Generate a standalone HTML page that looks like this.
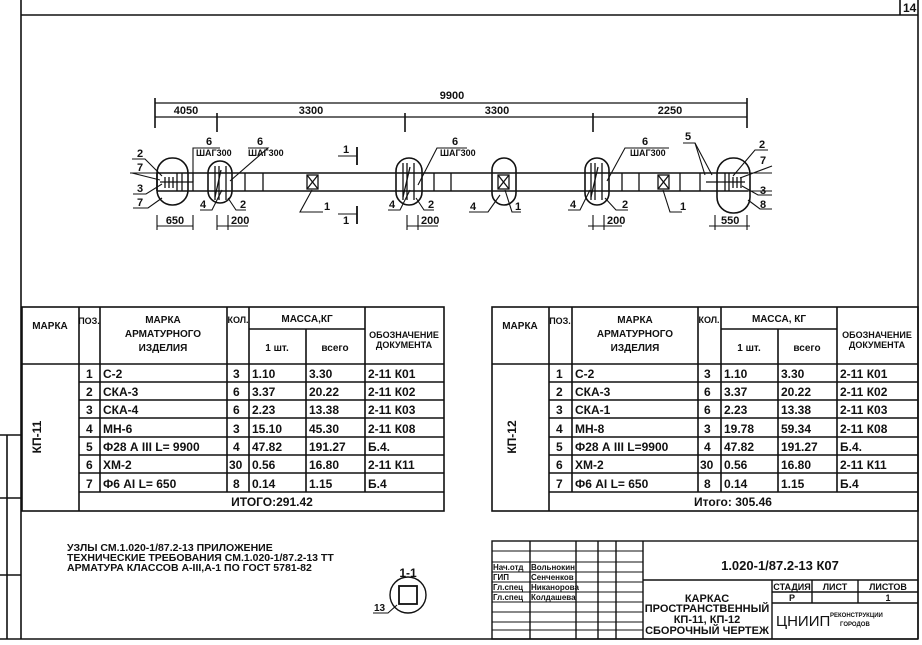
<!DOCTYPE html>
<html><head><meta charset="utf-8">
<style>
html,body{margin:0;padding:0;background:#fff;}
svg{display:block;}
text{font-family:"Liberation Sans","DejaVu Sans",sans-serif;fill:#111;}
</style></head>
<body>
<svg width="922" height="645" viewBox="0 0 922 645" xmlns="http://www.w3.org/2000/svg">
<g stroke="#111" fill="none" stroke-width="1.6">
<line x1="21" y1="0" x2="21" y2="639"/>
<line x1="918" y1="0" x2="918" y2="639"/>
<line x1="21" y1="639" x2="918" y2="639"/>
<line x1="21" y1="15" x2="918" y2="15"/>
<line x1="900" y1="0" x2="900" y2="15"/>
<line x1="0" y1="435" x2="21" y2="435"/>
<line x1="0" y1="498" x2="21" y2="498"/>
<line x1="0" y1="575" x2="21" y2="575"/>
<line x1="7" y1="435" x2="7" y2="639"/>
<line x1="0" y1="639" x2="21" y2="639"/>

<line x1="155" y1="103" x2="747" y2="103" stroke-width="1.2"/>
<line x1="155" y1="117" x2="747" y2="117" stroke-width="1.2"/>
<line x1="155" y1="98" x2="155" y2="128"/>
<line x1="747" y1="98" x2="747" y2="128"/>
<line x1="217" y1="113" x2="217" y2="132"/>
<line x1="405" y1="113" x2="405" y2="132"/>
<line x1="593" y1="113" x2="593" y2="132"/>
<line x1="157" y1="173" x2="748" y2="173"/>
<line x1="157" y1="191" x2="748" y2="191"/>
<line x1="157" y1="173" x2="157" y2="191"/>
<line x1="130" y1="173" x2="157" y2="173" stroke-width="1"/>
<line x1="748" y1="173" x2="772" y2="173" stroke-width="1"/>
<line x1="748" y1="191" x2="772" y2="191" stroke-width="1"/>
<rect x="157" y="158" width="31" height="47" rx="15"/>
<rect x="208" y="161" width="24" height="42" rx="12"/>
<rect x="396" y="158" width="26" height="47" rx="13"/>
<rect x="492" y="158" width="24" height="47" rx="12"/>
<rect x="585" y="158" width="24" height="47" rx="12"/>
<rect x="717" y="158" width="33" height="55" rx="16"/>
<g stroke-width="1.3">
<line x1="193" y1="173" x2="193" y2="191"/>
<line x1="245" y1="173" x2="245" y2="191"/>
<line x1="263" y1="173" x2="263" y2="191"/>
<line x1="434" y1="173" x2="434" y2="191"/>
<line x1="451" y1="173" x2="451" y2="191"/>
<line x1="622" y1="173" x2="622" y2="191"/>
<line x1="639" y1="173" x2="639" y2="191"/>
<line x1="680" y1="173" x2="680" y2="191"/>
<line x1="700" y1="173" x2="700" y2="191"/>
<line x1="165" y1="177" x2="165" y2="188"/><line x1="169" y1="177" x2="169" y2="188"/>
<line x1="173" y1="177" x2="173" y2="188"/><line x1="177" y1="173" x2="177" y2="191"/>
<line x1="182" y1="173" x2="182" y2="191"/><line x1="160" y1="182" x2="193" y2="182"/>
<line x1="725" y1="173" x2="725" y2="191"/><line x1="729" y1="173" x2="729" y2="191"/>
<line x1="733" y1="177" x2="733" y2="188"/><line x1="737" y1="177" x2="737" y2="188"/>
<line x1="741" y1="177" x2="741" y2="188"/><line x1="706" y1="182" x2="745" y2="182"/>
<rect x="307" y="175" width="11" height="14"/><line x1="307" y1="175" x2="318" y2="189"/><line x1="318" y1="175" x2="307" y2="189"/>
<rect x="498" y="175" width="11" height="14"/><line x1="498" y1="175" x2="509" y2="189"/><line x1="509" y1="175" x2="498" y2="189"/>
<rect x="658" y="175" width="11" height="14"/><line x1="658" y1="175" x2="669" y2="189"/><line x1="669" y1="175" x2="658" y2="189"/>
<line x1="215" y1="166" x2="215" y2="200"/><line x1="219" y1="166" x2="219" y2="200"/><line x1="226" y1="166" x2="226" y2="200"/><line x1="221" y1="170" x2="215" y2="197"/>
<line x1="403" y1="163" x2="403" y2="200"/><line x1="407" y1="163" x2="407" y2="200"/><line x1="414" y1="163" x2="414" y2="200"/><line x1="410" y1="167" x2="403" y2="197"/>
<line x1="591" y1="163" x2="591" y2="200"/><line x1="595" y1="163" x2="595" y2="200"/><line x1="602" y1="163" x2="602" y2="200"/><line x1="598" y1="167" x2="591" y2="197"/>
</g>
<g stroke-width="1.1">
<polyline points="132,159 145,159 162,176"/>
<polyline points="132,173 160,180"/>
<polyline points="133,194 146,194 162,184"/>
<polyline points="133,208 148,208 162,198"/>
<polyline points="193,182 193,148 220,148"/>
<polyline points="248,148 268,148 230,181"/>
<polyline points="200,210 212,210 222,190"/>
<polyline points="246,210 236,210 228,198"/>
<polyline points="323,212 300,212 312,190"/>
<polyline points="467,148 437,148 418,185"/>
<polyline points="388,210 400,210 410,190"/>
<polyline points="434,210 424,210 416,198"/>
<polyline points="469,212 488,212 500,195"/>
<polyline points="521,212 512,212 505,190"/>
<polyline points="669,148 625,148 607,181"/>
<polyline points="568,210 580,210 590,190"/>
<polyline points="628,210 616,210 605,198"/>
<polyline points="682,212 670,212 663,190"/>
<polyline points="683,143 695,143 705,175"/>
<line x1="695" y1="143" x2="712" y2="175"/>
<polyline points="768,150 755,150 733,176"/>
<polyline points="772,166 740,178"/>
<polyline points="772,195 758,195 742,186"/>
<polyline points="772,209 760,209 748,200"/>
<polyline points="338,156 357,156"/><line x1="357" y1="147" x2="357" y2="165" stroke-width="1.8"/>
<polyline points="338,214 357,214"/><line x1="357" y1="206" x2="357" y2="224" stroke-width="1.8"/>
<line x1="157" y1="226" x2="193" y2="226"/><line x1="157" y1="215" x2="157" y2="230"/><line x1="193" y1="215" x2="193" y2="230"/>
<line x1="217" y1="226" x2="248" y2="226"/><line x1="217" y1="215" x2="217" y2="230"/><line x1="228" y1="215" x2="228" y2="230"/>
<line x1="407" y1="226" x2="438" y2="226"/><line x1="407" y1="215" x2="407" y2="230"/><line x1="418" y1="215" x2="418" y2="230"/>
<line x1="588" y1="226" x2="622" y2="226"/><line x1="593" y1="215" x2="593" y2="230"/><line x1="604" y1="215" x2="604" y2="230"/>
<line x1="709" y1="226" x2="750" y2="226"/><line x1="715" y1="215" x2="715" y2="230"/><line x1="747" y1="215" x2="747" y2="230"/>
</g>

<g stroke-width="1.6">
<rect x="22" y="307" width="422" height="204"/>
<line x1="79" y1="307" x2="79" y2="511"/>
<line x1="100" y1="307" x2="100" y2="492"/>
<line x1="227" y1="307" x2="227" y2="492"/>
<line x1="249" y1="307" x2="249" y2="492"/>
<line x1="306" y1="329" x2="306" y2="492"/>
<line x1="365" y1="307" x2="365" y2="492"/>
<line x1="249" y1="329" x2="365" y2="329"/>
<line x1="22" y1="364" x2="444" y2="364"/>
<line x1="79" y1="382" x2="444" y2="382"/><line x1="79" y1="400" x2="444" y2="400"/>
<line x1="79" y1="418" x2="444" y2="418"/><line x1="79" y1="437" x2="444" y2="437"/>
<line x1="79" y1="455" x2="444" y2="455"/><line x1="79" y1="473" x2="444" y2="473"/>
<line x1="79" y1="492" x2="444" y2="492"/>

<rect x="492" y="307" width="426" height="204"/>
<line x1="549" y1="307" x2="549" y2="511"/>
<line x1="572" y1="307" x2="572" y2="492"/>
<line x1="698" y1="307" x2="698" y2="492"/>
<line x1="721" y1="307" x2="721" y2="492"/>
<line x1="778" y1="329" x2="778" y2="492"/>
<line x1="837" y1="307" x2="837" y2="492"/>
<line x1="721" y1="329" x2="837" y2="329"/>
<line x1="492" y1="364" x2="918" y2="364"/>
<line x1="549" y1="382" x2="918" y2="382"/><line x1="549" y1="400" x2="918" y2="400"/>
<line x1="549" y1="418" x2="918" y2="418"/><line x1="549" y1="437" x2="918" y2="437"/>
<line x1="549" y1="455" x2="918" y2="455"/><line x1="549" y1="473" x2="918" y2="473"/>
<line x1="549" y1="492" x2="918" y2="492"/>
</g>

<circle cx="408" cy="595" r="18" stroke-width="1.4"/>
<rect x="399" y="586" width="18" height="18" stroke-width="1.8"/>
<polyline points="373,613 388,613 397,605" stroke-width="1.1"/>

<g stroke-width="1.4">
<rect x="492" y="541" width="426" height="98"/>
<line x1="530" y1="541" x2="530" y2="639"/>
<line x1="576" y1="541" x2="576" y2="639"/>
<line x1="598" y1="541" x2="598" y2="639"/>
<line x1="616" y1="541" x2="616" y2="639"/>
<line x1="643" y1="541" x2="643" y2="639"/>
<g stroke-width="1">
<line x1="492" y1="551" x2="643" y2="551"/><line x1="492" y1="562" x2="643" y2="562"/>
<line x1="492" y1="572" x2="643" y2="572"/><line x1="492" y1="582" x2="643" y2="582"/>
<line x1="492" y1="592" x2="643" y2="592"/><line x1="492" y1="602" x2="643" y2="602"/>
<line x1="492" y1="612" x2="643" y2="612"/><line x1="492" y1="622" x2="643" y2="622"/>
<line x1="492" y1="630" x2="643" y2="630"/>
</g>
<line x1="643" y1="580" x2="918" y2="580"/>
<line x1="772" y1="580" x2="772" y2="639"/>
<line x1="812" y1="580" x2="812" y2="603"/>
<line x1="858" y1="580" x2="858" y2="603"/>
<line x1="772" y1="592" x2="918" y2="592"/>
<line x1="772" y1="603" x2="918" y2="603"/>
</g>
</g>

<g font-size="11" font-weight="bold">
<text x="903" y="12" font-size="12">14</text>
<text x="452" y="99" text-anchor="middle">9900</text>
<text x="186" y="114" text-anchor="middle">4050</text>
<text x="311" y="114" text-anchor="middle">3300</text>
<text x="497" y="114" text-anchor="middle">3300</text>
<text x="670" y="114" text-anchor="middle">2250</text>
<text x="206" y="145">6</text><text x="196" y="156" font-size="9">ШАГ300</text>
<text x="257" y="145">6</text><text x="248" y="156" font-size="9">ШАГ300</text>
<text x="452" y="145">6</text><text x="440" y="156" font-size="9">ШАГ300</text>
<text x="642" y="145">6</text><text x="630" y="156" font-size="9">ШАГ300</text>
<text x="685" y="140">5</text>
<text x="137" y="157">2</text><text x="137" y="171">7</text><text x="137" y="192">3</text><text x="137" y="206">7</text>
<text x="759" y="148">2</text><text x="760" y="164">7</text><text x="760" y="194">3</text><text x="760" y="208">8</text>
<text x="343" y="153">1</text><text x="343" y="224">1</text>
<text x="200" y="208">4</text><text x="240" y="208">2</text>
<text x="324" y="210">1</text>
<text x="389" y="208">4</text><text x="428" y="208">2</text>
<text x="470" y="210">4</text><text x="515" y="210">1</text>
<text x="570" y="208">4</text><text x="622" y="208">2</text>
<text x="680" y="210">1</text>
<text x="175" y="224" text-anchor="middle">650</text>
<text x="231" y="224">200</text>
<text x="421" y="224">200</text>
<text x="607" y="224">200</text>
<text x="721" y="224">550</text>
</g>

<g font-size="10" font-weight="bold">
<text x="50" y="329" text-anchor="middle">МАРКА</text>
<text x="89" y="324" text-anchor="middle" font-size="9">ПОЗ.</text>
<text x="163" y="323" text-anchor="middle">МАРКА</text>
<text x="163" y="337" text-anchor="middle">АРМАТУРНОГО</text>
<text x="163" y="351" text-anchor="middle">ИЗДЕЛИЯ</text>
<text x="238" y="323" text-anchor="middle" font-size="9">КОЛ.</text>
<text x="307" y="322" text-anchor="middle">МАССА,КГ</text>
<text x="277" y="351" text-anchor="middle">1 шт.</text>
<text x="335" y="351" text-anchor="middle">всего</text>
<text x="404" y="338" text-anchor="middle" font-size="9">ОБОЗНАЧЕНИЕ</text>
<text x="404" y="348" text-anchor="middle" font-size="9">ДОКУМЕНТА</text>
<text x="41" y="437" text-anchor="middle" transform="rotate(-90 41 437)" font-size="12">КП-11</text>

<text x="520" y="329" text-anchor="middle">МАРКА</text>
<text x="560" y="324" text-anchor="middle" font-size="9">ПОЗ.</text>
<text x="635" y="323" text-anchor="middle">МАРКА</text>
<text x="635" y="337" text-anchor="middle">АРМАТУРНОГО</text>
<text x="635" y="351" text-anchor="middle">ИЗДЕЛИЯ</text>
<text x="709" y="323" text-anchor="middle" font-size="9">КОЛ.</text>
<text x="779" y="322" text-anchor="middle">МАССА, КГ</text>
<text x="749" y="351" text-anchor="middle">1 шт.</text>
<text x="807" y="351" text-anchor="middle">всего</text>
<text x="877" y="338" text-anchor="middle" font-size="9">ОБОЗНАЧЕНИЕ</text>
<text x="877" y="348" text-anchor="middle" font-size="9">ДОКУМЕНТА</text>
<text x="516" y="437" text-anchor="middle" transform="rotate(-90 516 437)" font-size="12">КП-12</text>
</g>

<g font-size="12" font-weight="bold">
<g>
<text x="86" y="378">1</text><text x="103" y="378">С-2</text><text x="233" y="378">3</text><text x="252" y="378">1.10</text><text x="309" y="378">3.30</text><text x="368" y="378">2-11 К01</text>
<text x="86" y="396">2</text><text x="103" y="396">СКА-3</text><text x="233" y="396">6</text><text x="252" y="396">3.37</text><text x="309" y="396">20.22</text><text x="368" y="396">2-11 К02</text>
<text x="86" y="414">3</text><text x="103" y="414">СКА-4</text><text x="233" y="414">6</text><text x="252" y="414">2.23</text><text x="309" y="414">13.38</text><text x="368" y="414">2-11 К03</text>
<text x="86" y="433">4</text><text x="103" y="433">МН-6</text><text x="233" y="433">3</text><text x="252" y="433">15.10</text><text x="309" y="433">45.30</text><text x="368" y="433">2-11 К08</text>
<text x="86" y="451">5</text><text x="103" y="451">Ф28 А III  L= 9900</text><text x="233" y="451">4</text><text x="252" y="451">47.82</text><text x="309" y="451">191.27</text><text x="368" y="451">Б.4.</text>
<text x="86" y="469">6</text><text x="103" y="469">ХМ-2</text><text x="229" y="469">30</text><text x="252" y="469">0.56</text><text x="309" y="469">16.80</text><text x="368" y="469">2-11 К11</text>
<text x="86" y="488">7</text><text x="103" y="488">Ф6 АI    L= 650</text><text x="233" y="488">8</text><text x="252" y="488">0.14</text><text x="309" y="488">1.15</text><text x="368" y="488">Б.4</text>
<text x="272" y="506" text-anchor="middle">ИТОГО:291.42</text>
</g>
<g>
<text x="556" y="378">1</text><text x="575" y="378">С-2</text><text x="704" y="378">3</text><text x="724" y="378">1.10</text><text x="781" y="378">3.30</text><text x="840" y="378">2-11 К01</text>
<text x="556" y="396">2</text><text x="575" y="396">СКА-3</text><text x="704" y="396">6</text><text x="724" y="396">3.37</text><text x="781" y="396">20.22</text><text x="840" y="396">2-11 К02</text>
<text x="556" y="414">3</text><text x="575" y="414">СКА-1</text><text x="704" y="414">6</text><text x="724" y="414">2.23</text><text x="781" y="414">13.38</text><text x="840" y="414">2-11 К03</text>
<text x="556" y="433">4</text><text x="575" y="433">МН-8</text><text x="704" y="433">3</text><text x="724" y="433">19.78</text><text x="781" y="433">59.34</text><text x="840" y="433">2-11 К08</text>
<text x="556" y="451">5</text><text x="575" y="451">Ф28 А III   L=9900</text><text x="704" y="451">4</text><text x="724" y="451">47.82</text><text x="781" y="451">191.27</text><text x="840" y="451">Б.4.</text>
<text x="556" y="469">6</text><text x="575" y="469">ХМ-2</text><text x="700" y="469">30</text><text x="724" y="469">0.56</text><text x="781" y="469">16.80</text><text x="840" y="469">2-11 К11</text>
<text x="556" y="488">7</text><text x="575" y="488">Ф6 АI    L= 650</text><text x="704" y="488">8</text><text x="724" y="488">0.14</text><text x="781" y="488">1.15</text><text x="840" y="488">Б.4</text>
<text x="733" y="506" text-anchor="middle">Итого:  305.46</text>
</g>
</g>

<g font-size="10.5" font-weight="bold">
<text x="67" y="551">УЗЛЫ СМ.1.020-1/87.2-13 ПРИЛОЖЕНИЕ</text>
<text x="67" y="561">ТЕХНИЧЕСКИЕ ТРЕБОВАНИЯ СМ.1.020-1/87.2-13 ТТ</text>
<text x="67" y="571">АРМАТУРА КЛАССОВ А-III,А-1 ПО ГОСТ 5781-82</text>
<text x="408" y="577" text-anchor="middle" font-size="12">1-1</text>
<text x="374" y="611" font-size="10">13</text>
</g>

<g font-size="8" font-weight="bold">
<text x="493" y="570">Нач.отд</text><text x="531" y="570">Вольнокин</text>
<text x="493" y="580">ГИП</text><text x="531" y="580">Сенченков</text>
<text x="493" y="590">Гл.спец</text><text x="531" y="590">Никанорова</text>
<text x="493" y="600">Гл.спец</text><text x="531" y="600">Колдашева</text>
<text x="780" y="570" text-anchor="middle" font-size="13">1.020-1/87.2-13 К07</text>
<text x="707" y="602" text-anchor="middle" font-size="11">КАРКАС</text>
<text x="707" y="612" text-anchor="middle" font-size="11">ПРОСТРАНСТВЕННЫЙ</text>
<text x="707" y="623" text-anchor="middle" font-size="11">КП-11, КП-12</text>
<text x="707" y="634" text-anchor="middle" font-size="11">СБОРОЧНЫЙ ЧЕРТЕЖ</text>
<text x="792" y="590" text-anchor="middle" font-size="9">СТАДИЯ</text>
<text x="835" y="590" text-anchor="middle" font-size="9">ЛИСТ</text>
<text x="888" y="590" text-anchor="middle" font-size="9">ЛИСТОВ</text>
<text x="792" y="601" text-anchor="middle" font-size="9">Р</text>
<text x="888" y="601" text-anchor="middle" font-size="9">1</text>
<text x="776" y="626" font-size="15" font-weight="normal">ЦНИИП</text>
<text x="830" y="617" font-size="6">РЕКОНСТРУКЦИИ</text>
<text x="840" y="626" font-size="6">ГОРОДОВ</text>
</g>
</svg>
</body></html>
